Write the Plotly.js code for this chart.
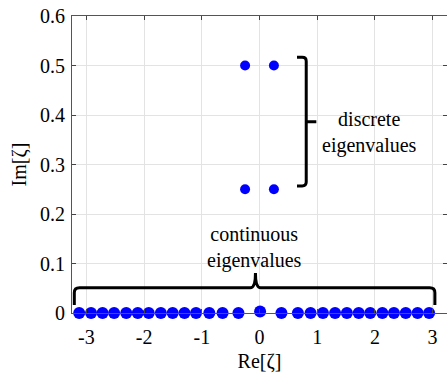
<!DOCTYPE html>
<html>
<head>
<meta charset="utf-8">
<script src="https://cdn.plot.ly/plotly-3.0.1.min.js"></script>
<style>html,body{margin:0;padding:0;background:#fff;}#chart{width:447px;height:375px;}</style>
</head>
<body>
<div id="chart"></div>
<script>
// Continuous eigenvalues (on the real axis)
const contRe = [-3.125, -2.92, -2.72, -2.52, -2.31, -2.11, -1.92, -1.71, -1.505, -1.30, -1.10, -0.87, -0.64, -0.365,
                0.01, 0.38, 0.665, 0.885, 1.10, 1.31, 1.515, 1.72, 1.92, 2.13, 2.33, 2.535, 2.74, 2.94];
const contIm = [0, 0, 0, 0, 0, 0, 0, 0, 0, 0, 0, 0, 0, 0,
                0.003, 0, 0, 0, 0, 0, 0, 0, 0, 0, 0, 0, 0, 0];
// Discrete eigenvalues
const discRe = [-0.25, 0.25, -0.25, 0.25];
const discIm = [0.5, 0.5, 0.25, 0.25];

const xTickVals = [-3, -2, -1, 0, 1, 2, 3];
const xTickText = ['-3', '-2', '-1', '0', '1', '2', '3'];
const yTickVals = [0, 0.1, 0.2, 0.3, 0.4, 0.5, 0.6];
const yTickText = ['0', '0.1', '0.2', '0.3', '0.4', '0.5', '0.6'];

const labelDiscrete = 'discrete<br>eigenvalues';
const labelContinuous = 'continuous<br>eigenvalues';

const serif = 'Times New Roman, Liberation Serif, DejaVu Serif, serif';
const blue = '#0000FF';

const traces = [
  {x: contRe, y: contIm, type: 'scatter', mode: 'markers', cliponaxis: false,
   marker: {color: blue, size: 12}, hoverinfo: 'skip', showlegend: false},
  {x: discRe, y: discIm, type: 'scatter', mode: 'markers', cliponaxis: false,
   marker: {color: blue, size: 10}, hoverinfo: 'skip', showlegend: false}
];

// brace helpers (data coordinates)
function hBrace(x0, x1, xc, yLine, yEnd, yPeak) {
  const rx = 0.09, ry = 0.01;
  return `M ${x0},${yEnd} L ${x0},${yLine - ry} Q ${x0},${yLine} ${x0 + rx},${yLine} ` +
         `L ${xc - rx},${yLine} Q ${xc},${yLine} ${xc},${yPeak} Q ${xc},${yLine} ${xc + rx},${yLine} ` +
         `L ${x1 - rx},${yLine} Q ${x1},${yLine} ${x1},${yLine - ry} L ${x1},${yEnd}`;
}
function vBracket(xs, xv, xt, yTop, yBot, yMid) {
  const rx = 0.07, ry = 0.008;
  return `M ${xs},${yTop} L ${xv - rx},${yTop} Q ${xv},${yTop} ${xv},${yTop - ry} ` +
         `L ${xv},${yBot + ry} Q ${xv},${yBot} ${xv - rx},${yBot} L ${xs},${yBot} ` +
         `M ${xv},${yMid} L ${xt},${yMid}`;
}

const tf = () => ({family: serif, size: 20, color: '#000'});

const layout = {
  width: 447, height: 375,
  margin: {l: 72, r: 0, t: 16, b: 62},
  paper_bgcolor: '#fff', plot_bgcolor: '#fff',
  font: tf(),
  xaxis: {
    range: [-3.25, 3.25], tickvals: xTickVals, ticktext: xTickText,
    ticks: 'inside', ticklen: 4, tickcolor: '#444', showline: true, linecolor: '#555', linewidth: 1,
    mirror: 'ticks', showgrid: true, gridcolor: '#e3e3e3', zeroline: false,
    tickfont: tf(), ticklabelstandoff: 6,
    title: {text: 'Re[ζ]', font: tf(), standoff: 6}
  },
  yaxis: {
    range: [0, 0.6], tickvals: yTickVals, ticktext: yTickText,
    ticks: 'inside', ticklen: 4, tickcolor: '#444', showline: true, linecolor: '#555', linewidth: 1,
    mirror: 'ticks', showgrid: true, gridcolor: '#e3e3e3', zeroline: false,
    tickfont: tf(), ticklabelstandoff: 2,
    title: {text: 'Im[ζ]', font: tf(), standoff: 8}
  },
  shapes: [
    {type: 'path', xref: 'x', yref: 'y', path: hBrace(-3.21, 3.04, -0.07, 0.051, 0.016, 0.081),
     line: {color: '#000', width: 3}},
    {type: 'path', xref: 'x', yref: 'y', path: vBracket(0.65, 0.81, 0.985, 0.5166, 0.2566, 0.3866),
     line: {color: '#000', width: 3}}
  ],
  annotations: [
    {x: 1.91, y: 0.365, xref: 'x', yref: 'y', text: labelDiscrete, showarrow: false,
     font: tf(), align: 'center'},
    {x: -0.087, y: 0.132, xref: 'x', yref: 'y', text: labelContinuous, showarrow: false,
     font: tf(), align: 'center'}
  ]
};

Plotly.newPlot('chart', traces, layout, {displayModeBar: false, staticPlot: true});
</script>
</body>
</html>
